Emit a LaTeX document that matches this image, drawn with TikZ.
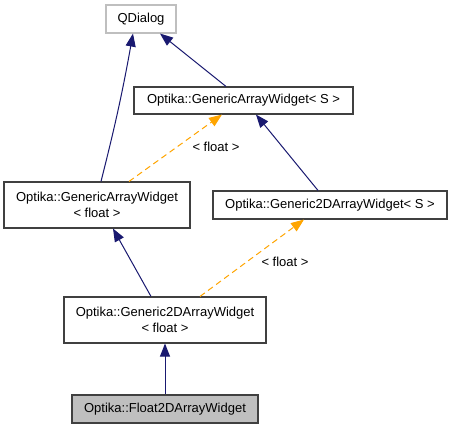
\documentclass[tikz,border=0pt]{standalone}
\usepackage{fontspec}
\setmainfont{Liberation Sans}
\usetikzlibrary{arrows.meta}
\definecolor{navyedge}{HTML}{191970}
\definecolor{orangeedge}{HTML}{FFA500}
\definecolor{boxborder}{HTML}{404040}
\definecolor{greyborder}{HTML}{BFBFBF}
\definecolor{greyfill}{HTML}{BFBFBF}
\tikzset{
  every node/.style={font=\fontsize{13}{16}\selectfont},
  box/.style={draw=boxborder, line width=1.1pt, fill=white, inner sep=0pt, align=center},
  extbox/.style={box, draw=greyborder},
  curbox/.style={box, fill=greyfill},
  inherit/.style={draw=navyedge, line width=1pt, -{Triangle[length=13pt,width=10pt]}},
  tmpl/.style={draw=orangeedge, line width=1pt, dash pattern=on 6pt off 4pt, -{Triangle[length=13pt,width=10pt]}},
  lbl/.style={inner sep=0pt}
}
\begin{document}
\begin{tikzpicture}[x=1pt,y=-1pt]
\useasboundingbox[fill=white] (0,0) rectangle (453,429);
\node[extbox, minimum width=70pt, minimum height=28pt] (qd) at (141,19) {QDialog};
\node[box, minimum width=219pt, minimum height=27pt] (gas) at (243.5,100.5) {Optika::GenericArrayWidget\textless{} S \textgreater};
\node[box, minimum width=186pt, minimum height=46pt] (gaf) at (97,205) {Optika::GenericArrayWidget\\\textless{} float \textgreater};
\node[box, minimum width=234pt, minimum height=28pt] (g2s) at (330,205) {Optika::Generic2DArrayWidget\textless{} S \textgreater};
\node[box, minimum width=202pt, minimum height=46pt] (g2f) at (165,320) {Optika::Generic2DArrayWidget\\\textless{} float \textgreater};
\node[curbox, minimum width=186pt, minimum height=28pt] (f2d) at (165,409) {Optika::Float2DArrayWidget};

\draw[inherit] ([xshift=4pt]gaf.north) to[bend right=2] ([xshift=-8pt]qd.south);
\draw[inherit] ([xshift=-17.5pt]gas.north) -- ([xshift=19pt]qd.south);
\draw[inherit] ([xshift=-12pt]g2s.north) -- ([xshift=12.5pt]gas.south);
\draw[tmpl] ([xshift=32pt]gaf.north) -- ([xshift=-21.5pt]gas.south);
\draw[inherit] ([xshift=-14pt]g2f.north) -- ([xshift=16pt]gaf.south);
\draw[tmpl] ([xshift=35pt]g2f.north) -- ([xshift=-26pt]g2s.south);
\draw[inherit] (f2d) -- (g2f);
\node[lbl] (l1) at (216,147) {\textless{} float \textgreater};
\node[lbl] (l2) at (285,262) {\textless{} float \textgreater};
\end{tikzpicture}
\end{document}
